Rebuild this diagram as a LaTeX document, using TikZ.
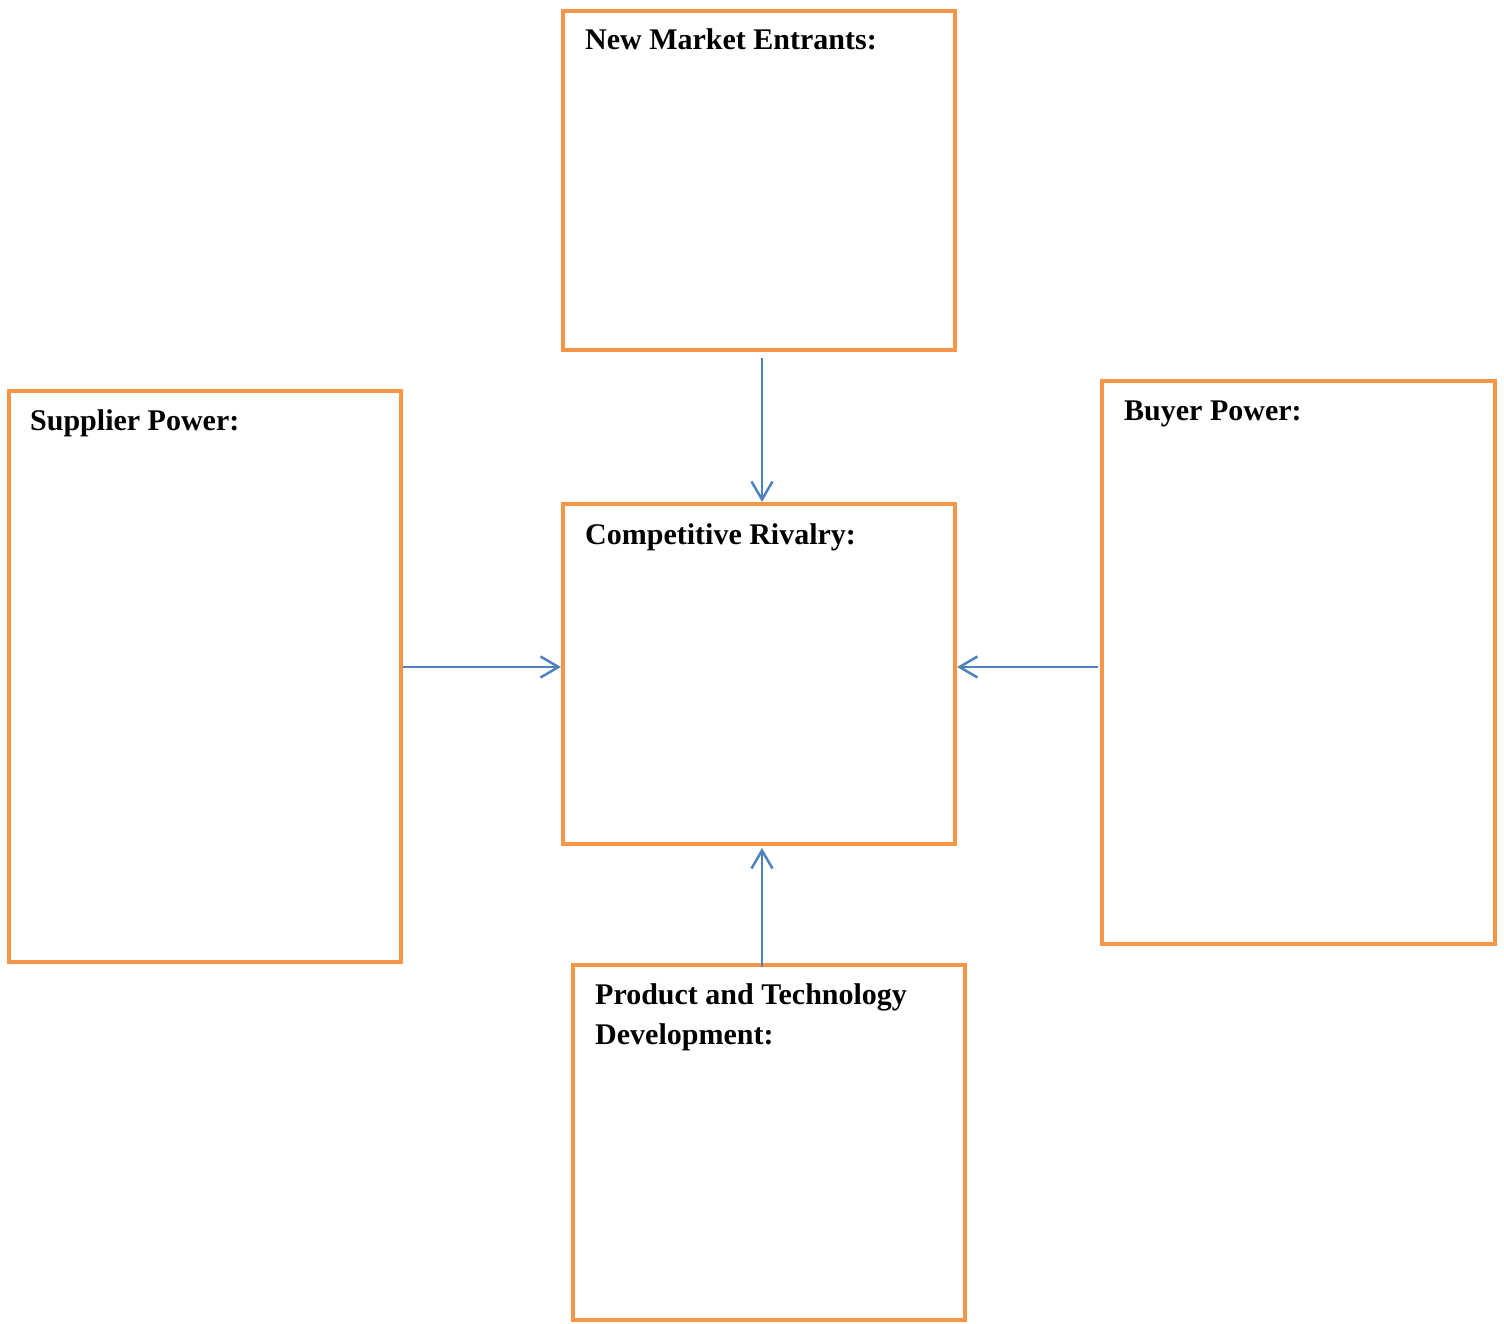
\documentclass[tikz,border=0pt]{standalone}
\usepackage{fontspec}
\setmainfont{Liberation Serif}
\usepackage{xcolor}
\usetikzlibrary{arrows.meta}

\definecolor{boxorange}{HTML}{F79646}
\definecolor{arrowblue}{HTML}{4F81BD}

\begin{document}
\begin{tikzpicture}[x=1pt,y=-1pt,
  forcebox/.style={draw=boxorange,line width=4pt,rectangle,inner sep=0pt},
  forcetitle/.style={anchor=base west,inner sep=0pt,align=left,
    font=\fontsize{30}{40}\selectfont\bfseries},
  flow/.style={draw=arrowblue,line width=2.5pt,
    -{Straight Barb[length=18pt,width=21pt,line width=2.5pt]}}]
\useasboundingbox (0,0) rectangle (1504,1324);
% the five forces
\node[forcebox,minimum width=392pt,minimum height=339pt] (entrants) at (759,180.5) {};
\node[forcebox,minimum width=392pt,minimum height=571pt] (supplier) at (205,676.5) {};
\node[forcebox,minimum width=392pt,minimum height=340pt] (rivalry) at (759,674) {};
\node[forcebox,minimum width=393pt,minimum height=563pt] (buyer) at (1298.5,662.5) {};
\node[forcebox,minimum width=392pt,minimum height=355pt] (product) at (769,1142.5) {};
% titles
\node[forcetitle] (entrantsTitle) at ([xshift=24pt,yshift=-41pt]entrants.north west) {New Market Entrants:};
\node[forcetitle] (supplierTitle) at ([xshift=23pt,yshift=-41pt]supplier.north west) {Supplier Power:};
\node[forcetitle] (rivalryTitle) at ([xshift=24pt,yshift=-42pt]rivalry.north west) {Competitive Rivalry:};
\node[forcetitle] (buyerTitle) at ([xshift=24pt,yshift=-41pt]buyer.north west) {Buyer Power:};
\node[forcetitle,anchor=north west] (productTitle) at ([xshift=24pt,yshift=-20pt]product.north west)
  {Product and Technology\\Development:};
% arrows into the rivalry box
\coordinate (rivalryTop) at ([xshift=3pt]rivalry.north);
\coordinate (rivalryBottom) at ([xshift=3pt,yshift=-2pt]rivalry.south);
\coordinate (rivalryLeft) at ([yshift=7pt]rivalry.west);
\coordinate (rivalryRight) at ([yshift=7pt]rivalry.east);
\draw[flow] (entrants.south -| rivalryTop) ++(0,6) -- (rivalryTop);
\draw[flow] (supplier.east |- rivalryLeft) -- (rivalryLeft);
\draw[flow] ([xshift=-2pt]buyer.west |- rivalryRight) -- (rivalryRight);
\draw[flow] ([yshift=-4pt]product.north -| rivalryBottom) -- (rivalryBottom);
\end{tikzpicture}
\end{document}
